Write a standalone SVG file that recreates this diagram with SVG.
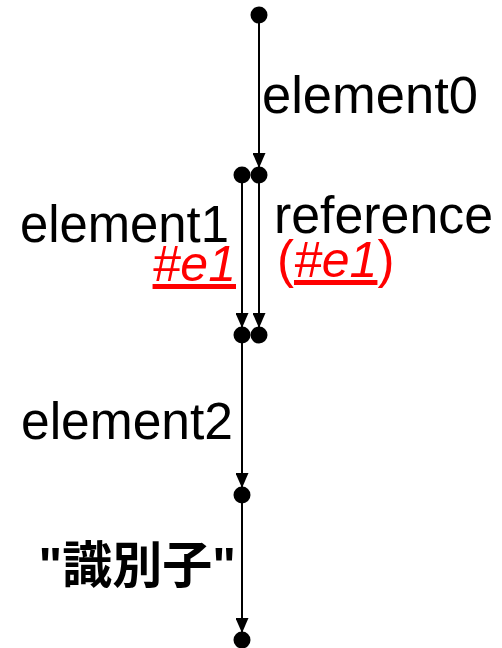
<svg xmlns="http://www.w3.org/2000/svg" width="502" height="648" viewBox="0 0 502 648">
<style>
.n{fill:#000}
.e{stroke:#000;stroke-width:2;fill:none;marker-end:url(#a)}
.t{font-family:"Liberation Sans",Arial,sans-serif;font-size:51px;fill:#000}
.r{font-family:"Liberation Sans",Arial,sans-serif;font-size:50px;fill:#f00;font-style:italic;text-decoration:underline}
.c{font-family:"Liberation Sans","Noto Sans CJK JP",sans-serif;font-size:50px;font-weight:bold;fill:#000}
</style>
<defs>
<marker id="a" viewBox="0 0 15 13" refX="15" refY="6.5" markerWidth="15" markerHeight="13" markerUnits="userSpaceOnUse" orient="auto">
<path d="M0,0L15,6.5L0,13z" fill="#000"/>
</marker>
</defs>
<rect width="502" height="648" fill="#fff"/>
<g id="edges">
<line class="e" x1="259" y1="15" x2="259" y2="168"/>
<line class="e" x1="242" y1="175" x2="242" y2="328"/>
<line class="e" x1="259" y1="175" x2="259" y2="328"/>
<line class="e" x1="242" y1="335" x2="242" y2="488"/>
<line class="e" x1="242" y1="495" x2="242" y2="633"/>
</g>
<g id="n0"><circle class="n" cx="259" cy="15" r="8.5"/></g>
<g id="n1"><circle class="n" cx="242" cy="175" r="8.5"/></g>
<g id="n2"><circle class="n" cx="259" cy="175" r="8.5"/></g>
<g id="n3"><circle class="n" cx="242" cy="335" r="8.5"/></g>
<g id="n4"><circle class="n" cx="259" cy="335" r="8.5"/></g>
<g id="n5"><circle class="n" cx="242" cy="495" r="8.5"/></g>
<g id="n6"><circle class="n" cx="242" cy="640" r="8.5"/></g>
<g id="labels">
<text class="t" x="262" y="113" textLength="216" lengthAdjust="spacingAndGlyphs">element0</text>
<text class="t" x="20" y="242" textLength="209" lengthAdjust="spacingAndGlyphs">element1</text>
<text class="r" x="236" y="281" text-anchor="end">#e1</text>
<text class="t" x="274" y="233" textLength="219" lengthAdjust="spacingAndGlyphs">reference</text>
<text class="t" x="277" y="277"><tspan fill="#f00">(</tspan><tspan class="r">#e1</tspan><tspan fill="#f00">)</tspan></text>
<text class="t" x="21" y="439" textLength="212" lengthAdjust="spacingAndGlyphs">element2</text>
<text class="c" x="236" y="583" text-anchor="end">"識別子"</text>
</g>
</svg>
